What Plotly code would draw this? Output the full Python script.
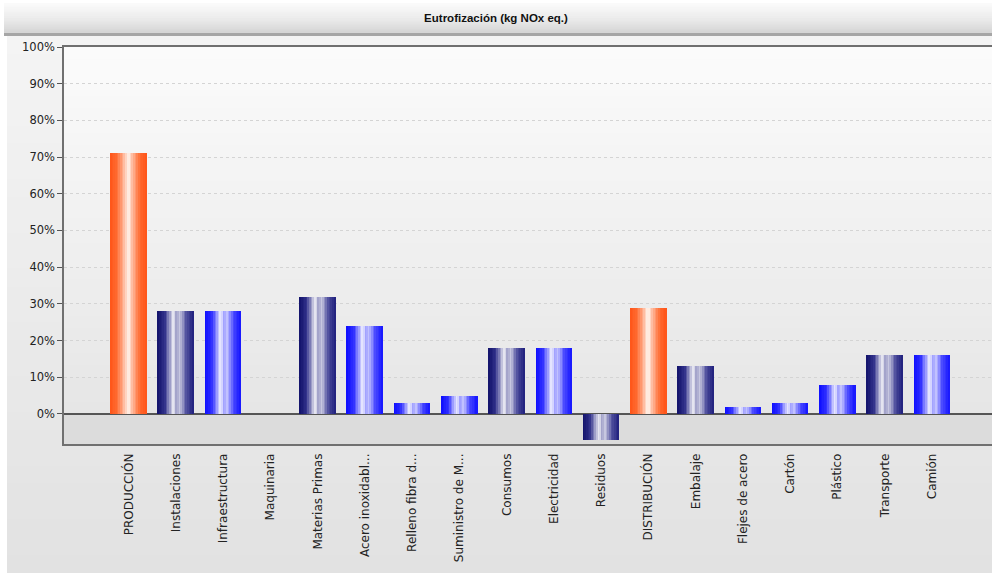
import plotly.graph_objects as go

# ---------------- data ----------------
categories = ["PRODUCCIÓN", "Instalaciones", "Infraestructura", "Maquinaria",
              "Materias Primas", "Acero inoxidabl...", "Relleno fibra d...",
              "Suministro de M...", "Consumos", "Electricidad", "Residuos",
              "DISTRIBUCIÓN", "Embalaje", "Flejes de acero", "Cartón",
              "Plástico", "Transporte", "Camión"]
values = [71, 28, 28, 0, 32, 24, 3, 5, 18, 18, -7, 29, 13, 2, 3, 8, 16, 16]
# colour family per bar: o = orange, d = dark navy, b = bright blue
bar_palette = ["o", "d", "b", "b", "d", "b", "b", "b", "d", "b", "d",
               "o", "d", "b", "b", "b", "d", "b"]
y_ticks = list(range(0, 101, 10))
y_tick_labels = ["%d%%" % v for v in y_ticks]
title_text = "Eutrofización (kg NOx eq.)"

# ---------------- styling helpers ----------------
W, H = 992, 573
ML, MR, MT, MB = 64, 0, 47, 129
PW, PH = W - ML - MR, H - MT - MB

def hex2rgb(h):
    h = h.lstrip("#")
    return tuple(int(h[i:i + 2], 16) for i in (0, 2, 4))

def interp(stops, t):
    for (t0, c0), (t1, c1) in zip(stops, stops[1:]):
        if t0 <= t <= t1:
            f = 0 if t1 == t0 else (t - t0) / (t1 - t0)
            a, b = hex2rgb(c0), hex2rgb(c1)
            return "rgb(%d,%d,%d)" % tuple(round(a[i] + (b[i] - a[i]) * f) for i in range(3))
    return stops[-1][1]

gradients = {
    "o": [(0, "#ff5418"), (0.18, "#ff6a30"), (0.36, "#ffb090"), (0.5, "#fff6f0"),
          (0.64, "#ffb090"), (0.82, "#ff6a30"), (1, "#ff5418")],
    "d": [(0, "#12126a"), (0.2, "#30308a"), (0.45, "#f2f2f8"), (0.53, "#9c9cc6"),
          (0.62, "#cacae2"), (0.8, "#50509e"), (1, "#1e1e7c")],
    "b": [(0, "#0c0cff"), (0.2, "#3030ff"), (0.45, "#f2f2ff"), (0.53, "#9a9aff"),
          (0.62, "#c4c4ff"), (0.8, "#4848ff"), (1, "#1414ff")],
}

N = 22
BW = 0.762
fig = go.Figure()
for k in range(N):
    t = (k + 0.5) / N
    cols = [interp(gradients[p], t) for p in bar_palette]
    fig.add_trace(go.Bar(
        x=categories, y=values,
        width=BW / N + 0.002, offset=-BW / 2 + k * BW / N,
        marker=dict(color=cols, line=dict(width=0)),
        showlegend=False, hoverinfo="skip"))

# ---------------- background decoration ----------------
def px_x(p):
    return (p - ML) / PW

def px_y(p):
    return (H - MB - p) / PH

shapes = []
panel_steps = 30
for i in range(panel_steps):
    y0 = 36 + (H - 36) * i / panel_steps
    y1 = 36 + (H - 36) * (i + 1) / panel_steps + 1
    t = i / (panel_steps - 1)
    c = interp([(0, "#f4f4f4"), (1, "#e2e2e2")], t)
    shapes.append(dict(type="rect", xref="paper", yref="paper", layer="below",
                       x0=px_x(7), x1=px_x(W + 2), y0=px_y(y0), y1=px_y(y1),
                       fillcolor=c, line=dict(width=0)))
tb_steps = 14
for i in range(tb_steps):
    y0 = 3 + 30 * i / tb_steps
    y1 = 3 + 30 * (i + 1) / tb_steps + 0.6
    t = i / (tb_steps - 1)
    c = interp([(0, "#fafafa"), (0.5, "#ececec"), (1, "#d6d6d6")], t)
    shapes.append(dict(type="rect", xref="paper", yref="paper", layer="below",
                       x0=px_x(4), x1=px_x(W + 2), y0=px_y(y0), y1=px_y(y1),
                       fillcolor=c, line=dict(width=0)))
shapes.append(dict(type="rect", xref="paper", yref="paper", layer="below",
                   x0=px_x(4), x1=px_x(W + 2), y0=px_y(33), y1=px_y(36),
                   fillcolor="#a6a6a6", line=dict(width=0)))
pa_steps = 30
for i in range(pa_steps):
    v0 = 100 * i / pa_steps
    v1 = 100 * (i + 1) / pa_steps + 0.4
    t = i / (pa_steps - 1)
    c = interp([(0, "#e6e6e6"), (1, "#fbfbfb")], t)
    shapes.append(dict(type="rect", xref="paper", yref="y", layer="below",
                       x0=0, x1=1, y0=v0, y1=min(v1, 100),
                       fillcolor=c, line=dict(width=0)))
shapes.append(dict(type="rect", xref="paper", yref="y", layer="below",
                   x0=0, x1=1, y0=-8.3, y1=0,
                   fillcolor="#dcdcdc", line=dict(width=0)))

fig.update_layout(
    width=W, height=H,
    margin=dict(l=ML, r=MR, t=MT, b=MB, pad=0),
    paper_bgcolor="white",
    plot_bgcolor="rgba(0,0,0,0)",
    barmode="overlay",
    bargap=0,
    shapes=shapes,
    title=dict(text="<b>" + title_text + "</b>", x=0.5, xref="container",
               xanchor="center", y=1 - 18 / H, yref="container", yanchor="middle",
               font=dict(family="Liberation Sans Narrow, Arial Narrow, Liberation Sans, Arial",
                         size=11.5, color="#111")),
    xaxis=dict(
        type="category", range=[-1.369, 18.267], fixedrange=True,
        showgrid=False, zeroline=False,
        showline=True, linecolor="#707070", linewidth=1.5, mirror=True,
        ticks="", tickangle=-90,
        tickfont=dict(family="DejaVu Sans, Verdana, sans-serif", size=12, color="#222"),
        ticklabelstandoff=3,
    ),
    yaxis=dict(
        range=[-8.2, 100], tickvals=y_ticks, ticktext=y_tick_labels,
        showgrid=True, gridcolor="#d4d4d4", griddash="3px,3px", gridwidth=1,
        zeroline=True, zerolinecolor="#555555", zerolinewidth=1.5,
        showline=True, linecolor="#707070", linewidth=1.5, mirror=False,
        ticks="outside", ticklen=5, tickcolor="#555555",
        tickfont=dict(family="DejaVu Sans, Verdana, sans-serif", size=11.5, color="#222"),
    ),
)

fig.write_html("out.html",
               config={"displayModeBar": False},
               post_script="document.body.style.margin='0';document.body.style.padding='0';")
